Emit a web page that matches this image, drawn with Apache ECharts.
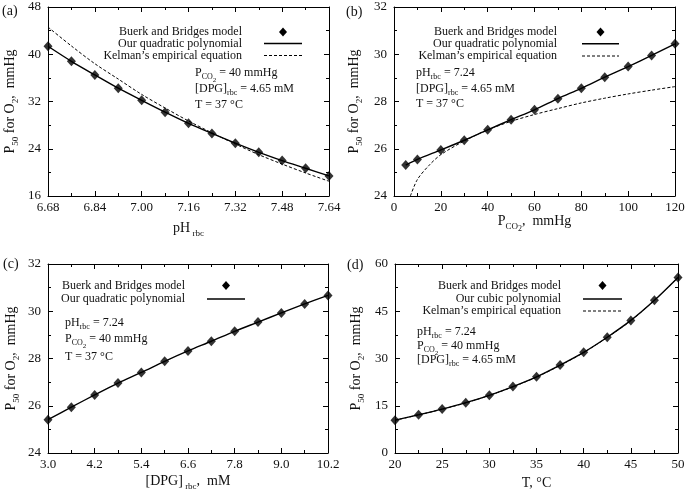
<!DOCTYPE html>
<html><head><meta charset="utf-8">
<script src="https://cdn.jsdelivr.net/npm/echarts@6/dist/echarts.min.js"></script>
<style>html,body{margin:0;padding:0;background:#fff}#c{width:685px;height:499px}</style>
</head><body><div id="c"></div>
<script>
// ---------- Panel (a): P50 vs pH_rbc ----------
const phX   = [6.68, 6.76, 6.84, 6.92, 7.00, 7.08, 7.16, 7.24, 7.32, 7.40, 7.48, 7.56, 7.64];
const phBB  = [41.35, 38.8, 36.5, 34.25, 32.2, 30.2, 28.3, 26.6, 24.95, 23.4, 22.0, 20.7, 19.4];
const phKel = [44.6, 41.4, 38.4, 35.8, 33.2, 30.9, 28.7, 26.7, 24.8, 23.0, 21.4, 19.9, 18.5];
// ---------- Panel (b): P50 vs PCO2 ----------
const pco2X    = [5, 10, 20, 30, 40, 50, 60, 70, 80, 90, 100, 110, 120];
const pco2BB   = [25.31, 25.55, 25.95, 26.36, 26.8, 27.23, 27.65, 28.12, 28.56, 29.03, 29.48, 29.95, 30.44];
const pco2KelX = [7, 10, 15, 20, 30, 40, 50, 60, 70, 80, 90, 100, 110, 120];
const pco2Kel  = [24.0, 24.7, 25.3, 25.75, 26.33, 26.8, 27.16, 27.45, 27.7, 27.94, 28.14, 28.32, 28.48, 28.63];
// ---------- Panel (c): P50 vs [DPG]_rbc ----------
const dpgX  = [3.0, 3.6, 4.2, 4.8, 5.4, 6.0, 6.6, 7.2, 7.8, 8.4, 9.0, 9.6, 10.2];
const dpgBB = [25.41, 25.94, 26.46, 26.96, 27.41, 27.88, 28.32, 28.73, 29.15, 29.54, 29.93, 30.31, 30.67];
// ---------- Panel (d): P50 vs T ----------
const tX   = [20, 22.5, 25, 27.5, 30, 32.5, 35, 37.5, 40, 42.5, 45, 47.5, 50];
const tBB  = [10.43, 12.13, 13.94, 15.97, 18.32, 21.09, 24.18, 27.91, 31.96, 36.76, 42.09, 48.49, 55.74];
const tKel = [10.4, 12.1, 13.9, 15.9, 18.3, 21.0, 24.1, 27.8, 31.9, 36.7, 42.0, 48.5, 55.8];

const legendNames = ['Buerk and Bridges model', 'Our quadratic polynomial', "Kelman\u2019s empirical equation", 'Our cubic polynomial'];

const F = '"Liberation Serif", "Times New Roman", serif';
const TXT = '#111';

function richSet(b) {
  return {
    m:  {fontFamily: F, fontSize: b, color: TXT, fill: TXT, verticalAlign: 'top'},
    s:  {fontFamily: F, fontSize: Math.round(b * 0.66), color: TXT, fill: TXT, verticalAlign: 'top', padding: [Math.round(b * 0.54), 0, 0, 0]},
    ss: {fontFamily: F, fontSize: Math.round(b * 0.55), color: TXT, fill: TXT, verticalAlign: 'top', padding: [Math.round(b * 0.82), 0, 0, 0]}
  };
}

const ph0 = phX[0], dpg0 = dpgX[0];
const panels = [
  {grid: {left: 48, top: 7, width: 281, height: 189},
   x: {min: 0, max: 0.96, interval: 0.16, fmt: v => (v + ph0).toFixed(2), name: '{m|pH}{s| rbc}', gap: 25},
   y: {min: 16, max: 48, interval: 8, name: '{m|P}{s|50}{m| for O}{s|2}{m|,  mmHg}', gap: 28}},
  {grid: {left: 394, top: 7, width: 281, height: 189},
   x: {min: 0, max: 120, interval: 20, fmt: v => String(v), name: '{m|P}{s|CO}{ss|2}{m|,  mmHg}', gap: 18},
   y: {min: 24, max: 32, interval: 2, name: '{m|P}{s|50}{m| for O}{s|2}{m|,  mmHg}', gap: 30}},
  {grid: {left: 48, top: 264, width: 280, height: 189},
   x: {min: 0, max: 7.2, interval: 1.2, fmt: v => (v + dpg0).toFixed(1), name: '{m|[DPG]}{s| rbc}{m|,  mM}', gap: 21},
   y: {min: 24, max: 32, interval: 2, name: '{m|P}{s|50}{m| for O}{s|2}{m|,  mmHg}', gap: 27}},
  {grid: {left: 395, top: 264, width: 283, height: 189},
   x: {min: 20, max: 50, interval: 5, fmt: v => String(v), name: '{m|T, \u00B0C}', gap: 23},
   y: {min: 0, max: 60, interval: 15, name: '{m|P}{s|50}{m| for O}{s|2}{m|,  mmHg}', gap: 29}}
];

function axisCommon(o) {
  return Object.assign({
    type: 'value',
    axisLine: {show: true, onZero: false, lineStyle: {color: '#000', width: 1}},
    axisTick: {show: true, inside: true, length: 5, lineStyle: {color: '#000', width: 1}},
    minorTick: {show: true, splitNumber: 2, length: 3, lineStyle: {color: '#000', width: 1}},
    splitLine: {show: false},
    minorSplitLine: {show: false},
    nameMoveOverlap: false
  }, o);
}

const grids = [], xAxes = [], yAxes = [];
panels.forEach((p, i) => {
  grids.push(Object.assign({containLabel: false, outerBoundsMode: 'none'}, p.grid));
  xAxes.push(axisCommon({
    gridIndex: i, position: 'bottom', min: p.x.min, max: p.x.max, interval: p.x.interval,
    axisLabel: {show: true, color: TXT, fontFamily: F, fontSize: 13, margin: 5, formatter: p.x.fmt, showMinLabel: true, showMaxLabel: true, hideOverlap: false},
    name: p.x.name, nameLocation: 'middle', nameGap: p.x.gap,
    nameTextStyle: {fontFamily: F, fontSize: 14, color: TXT, rich: richSet(14)}
  }));
  xAxes.push(axisCommon({
    gridIndex: i, position: 'top', min: p.x.min, max: p.x.max, interval: p.x.interval,
    axisLabel: {show: false}
  }));
  yAxes.push(axisCommon({
    gridIndex: i, position: 'left', min: p.y.min, max: p.y.max, interval: p.y.interval,
    axisLabel: {show: true, color: TXT, fontFamily: F, fontSize: 13, margin: 7, showMinLabel: true, showMaxLabel: true, hideOverlap: false},
    name: p.y.name, nameLocation: 'middle', nameGap: p.y.gap,
    nameTextStyle: {fontFamily: F, fontSize: 14, color: TXT, rich: richSet(14)}
  }));
  yAxes.push(axisCommon({
    gridIndex: i, position: 'right', min: p.y.min, max: p.y.max, interval: p.y.interval,
    axisLabel: {show: false}
  }));
});

const zip = (xs, ys, off) => xs.map((x, k) => [x - (off || 0), ys[k]]);

function scatterS(i, data) {
  return {type: 'scatter', name: legendNames[0], xAxisIndex: 2 * i, yAxisIndex: 2 * i, data,
    symbol: 'diamond', symbolSize: [9, 10], itemStyle: {color: '#000'}, z: 4, silent: true};
}
function solidS(i, data, name) {
  return {type: 'line', name, xAxisIndex: 2 * i, yAxisIndex: 2 * i, data, symbol: 'none', smooth: 0.3,
    lineStyle: {color: '#000', width: 1.4}, z: 3, silent: true};
}
function dashS(i, data) {
  return {type: 'line', name: legendNames[2], xAxisIndex: 2 * i, yAxisIndex: 2 * i, data, symbol: 'none', smooth: 0.3,
    lineStyle: {color: '#000', width: 1, type: [3, 2]}, z: 2, silent: true};
}

const series = [
  dashS(0, zip(phX, phKel, ph0)), solidS(0, zip(phX, phBB, ph0), legendNames[1]), scatterS(0, zip(phX, phBB, ph0)),
  dashS(1, zip(pco2KelX, pco2Kel)), solidS(1, zip(pco2X, pco2BB), legendNames[1]), scatterS(1, zip(pco2X, pco2BB)),
  solidS(2, zip(dpgX, dpgBB, dpg0), legendNames[1]), scatterS(2, zip(dpgX, dpgBB, dpg0)),
  dashS(3, zip(tX, tKel)), solidS(3, zip(tX, tBB), legendNames[3]), scatterS(3, zip(tX, tBB))
];

// ---------- text & legend keys ----------
function gtext(x, y, str, size, align, weight) {
  return {type: 'text', x, y, silent: true, z: 10,
    style: {text: str, rich: richSet(size), fontFamily: F, fontSize: size, fontWeight: weight || 'normal', fill: TXT,
      align: align || 'left', textAlign: align || 'left', verticalAlign: 'top', textVerticalAlign: 'top'}};
}
function keyDiamond(x, y) {
  return {type: 'polygon', silent: true, z: 10, shape: {points: [[x, y - 4.5], [x + 4, y], [x, y + 4.5], [x - 4, y]]}, style: {fill: '#000'}};
}
function keyLine(x1, x2, y, dashed) {
  return {type: 'line', silent: true, z: 10, shape: {x1, y1: y, x2, y2: y},
    style: {stroke: '#000', lineWidth: dashed ? 1 : 1.4, lineDash: dashed ? [3, 2] : null}};
}
function legendBlock(rightX, rows, keyX1, keyX2, names) {
  const out = [];
  names.forEach((n, k) => {
    const r = rows[k];
    out.push(gtext(rightX, r - 6, '{m|' + n + '}', 12, 'right'));
    if (k === 0) out.push(keyDiamond((keyX1 + keyX2) / 2, r));
    else out.push(keyLine(keyX1, keyX2, r, n === legendNames[2]));
  });
  return out;
}

const T_PCO2 = '{m|P}{s|CO}{ss|2}{m| = 40 mmHg}';
const T_DPG = '{m|[DPG]}{s|rbc}{m| = 4.65 mM}';
const T_T = '{m|T = 37 \u00B0C}';
const T_PH = '{m|pH}{s|rbc}{m| = 7.24}';

const graphics = [
  gtext(2, 4, '{m|(a)}', 14, 'left', 'bold'),
  gtext(346, 5, '{m|(b)}', 14, 'left', 'bold'),
  gtext(3, 257, '{m|(c)}', 14, 'left', 'bold'),
  gtext(347, 258, '{m|(d)}', 14, 'left', 'bold'),
  ...legendBlock(242, [32, 43.5, 55.5], 264, 302, [legendNames[0], legendNames[1], legendNames[2]]),
  ...legendBlock(557, [32, 43.8, 56], 582, 619, [legendNames[0], legendNames[1], legendNames[2]]),
  ...legendBlock(185, [285.5, 299], 207, 245, [legendNames[0], legendNames[1]]),
  ...legendBlock(561, [285.5, 299, 311], 583, 622, [legendNames[0], legendNames[3], legendNames[2]]),
  gtext(195, 67, T_PCO2, 12), gtext(195, 83, T_DPG, 12), gtext(195, 99, T_T, 12),
  gtext(416, 66.5, T_PH, 12), gtext(416, 83, T_DPG, 12), gtext(416, 98, T_T, 12),
  gtext(65, 316.5, T_PH, 12), gtext(65, 333, T_PCO2, 12), gtext(65, 351, T_T, 12),
  gtext(417, 325.5, T_PH, 12), gtext(417, 340, T_PCO2, 12), gtext(417, 353.5, T_DPG, 12)
];

const chart = echarts.init(document.getElementById('c'), null, {renderer: 'canvas'});
chart.setOption({
  backgroundColor: '#fff',
  animation: false,
  textStyle: {fontFamily: F},
  grid: grids, xAxis: xAxes, yAxis: yAxes,
  series,
  graphic: {elements: graphics}
});
</script>
</body></html>
